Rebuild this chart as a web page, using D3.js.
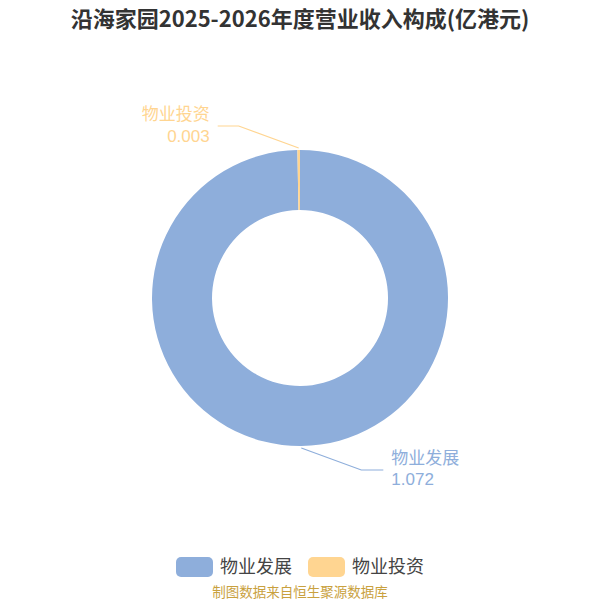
<!DOCTYPE html>
<html lang="zh">
<head>
<meta charset="UTF-8">
<title>沿海家园营业收入构成</title>
<script src="https://d3js.org/d3.v7.min.js"></script>
<style>
  body { margin: 0; background: #fff; }
  text { font-family: "Noto Sans CJK SC", "Noto Sans", sans-serif; }
  text.num { font-family: "Liberation Sans", Arial, sans-serif; }
</style>
</head>
<body>
<svg width="600" height="600"></svg>
<script>
// data
const categories = ["物业发展", "物业投资"];
const values = [1.072, 0.003];
const valueLabels = ["1.072", "0.003"];
const colors = ["#8eaedb", "#ffd591"];

const titleText = "沿海家园2025-2026年度营业收入构成(亿港元)";
const sourceText = "制图数据来自恒生聚源数据库";

const width = 600, height = 600;
const cx = 300, cy = 298;
const outerR = 148, innerR = 88;

const svg = d3.select("svg");

svg.append("text")
    .attr("x", width / 2).attr("y", 27)
    .attr("text-anchor", "middle")
    .attr("font-size", 22).attr("font-weight", "bold")
    .attr("fill", "#333")
    .text(titleText);

const data = categories.map((c, i) => ({ name: c, value: values[i], label: valueLabels[i], color: colors[i] }));

const pie = d3.pie().value(d => d.value).sort(null);
const arcs = pie(data);
const arc = d3.arc().innerRadius(innerR).outerRadius(outerR);

const g = svg.append("g").attr("transform", `translate(${cx},${cy})`);

g.selectAll("path.slice")
    .data(arcs)
    .enter().append("path")
    .attr("class", "slice")
    .attr("d", arc)
    .attr("fill", d => d.data.color);

// leader lines + labels
// small slice goes up-left, big one down-right (as in the picture)
const labelSetup = [
    { bend: [60, 22], hor: 22, side: 1 },   // 物业发展
    { bend: [-60, -22], hor: 21, side: -1 } // 物业投资
];

arcs.forEach((a, i) => {
    const mid = (a.startAngle + a.endAngle) / 2;
    const p0 = [Math.sin(mid) * (outerR + 2), -Math.cos(mid) * (outerR + 2)];
    const s = labelSetup[i];
    const p1 = [p0[0] + s.bend[0], p0[1] + s.bend[1]];
    const p2 = [p1[0] + s.side * s.hor, p1[1]];
    g.append("path")
        .attr("d", d3.line()([p0, p1, p2]))
        .attr("fill", "none")
        .attr("stroke", a.data.color)
        .attr("stroke-width", 1.2);
    const tx = p2[0] + s.side * 8;
    const anchor = s.side > 0 ? "start" : "end";
    g.append("text")
        .attr("x", tx).attr("y", p2[1] - 6)
        .attr("text-anchor", anchor)
        .attr("fill", a.data.color)
        .attr("font-size", 17)
        .text(a.data.name);
    g.append("text")
        .attr("class", "num")
        .attr("x", tx).attr("y", p2[1] + 15.5)
        .attr("text-anchor", anchor)
        .attr("fill", a.data.color)
        .attr("font-size", 17)
        .text(a.data.label);
});

// legend
const legend = svg.append("g").attr("transform", "translate(176,557)");
const itemW = 132;
data.forEach((d, i) => {
    const lg = legend.append("g").attr("transform", `translate(${i * itemW},0)`);
    lg.append("rect")
        .attr("width", 37).attr("height", 20)
        .attr("rx", 5).attr("ry", 5)
        .attr("fill", d.color);
    lg.append("text")
        .attr("x", 44).attr("y", 16)
        .attr("font-size", 18)
        .attr("fill", "#444")
        .text(d.name);
});

svg.append("text")
    .attr("x", width / 2).attr("y", 597)
    .attr("text-anchor", "middle")
    .attr("font-size", 13.5)
    .attr("fill", "#c9a13e")
    .text(sourceText);
</script>
</body>
</html>
